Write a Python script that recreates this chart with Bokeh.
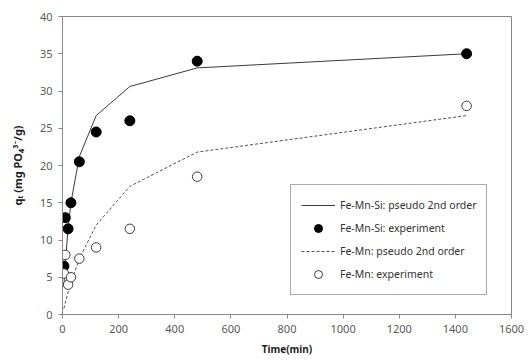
from bokeh.plotting import figure
from bokeh.models import FixedTicker, Legend, LegendItem, Range1d
from bokeh.embed import file_html
from bokeh.resources import INLINE

# Data
time_min = [5, 10, 20, 30, 60, 120, 240, 480, 1440]
femnsi_exp = [6.5, 13.0, 11.5, 15.0, 20.5, 24.5, 26.0, 34.0, 35.0]
femnsi_model = [3.8, 6.9, 11.6, 15.0, 21.2, 26.7, 30.6, 33.1, 35.0]
femn_exp = [5.5, 8.0, 4.0, 5.0, 7.5, 9.0, 11.5, 18.5, 28.0]
femn_model = [0.8, 1.6, 3.0, 4.3, 7.5, 12.0, 17.2, 21.8, 26.7]

x_ticks = [0, 200, 400, 600, 800, 1000, 1200, 1400, 1600]
y_ticks = [0, 5, 10, 15, 20, 25, 30, 35, 40]

labels = ["Fe-Mn-Si: pseudo 2nd order", "Fe-Mn-Si: experiment",
          "Fe-Mn: pseudo 2nd order", "Fe-Mn: experiment"]

FONT = "Noto Sans"
AX = "#868686"
TXT = "#595959"

p = figure(width=531, height=360, output_backend="svg", toolbar_location=None,
           x_range=Range1d(0, 1600), y_range=Range1d(0, 40),
           min_border_left=62, min_border_right=20, min_border_top=16, min_border_bottom=46)
p.background_fill_color = "white"
p.border_fill_color = "white"
p.outline_line_color = AX
p.outline_line_width = 1
p.xgrid.visible = False
p.ygrid.visible = False

for ax, ticks in ((p.xaxis[0], x_ticks), (p.yaxis[0], y_ticks)):
    ax.ticker = FixedTicker(ticks=ticks)
    ax.axis_line_color = AX
    ax.major_tick_line_color = AX
    ax.major_tick_out = 4
    ax.major_tick_in = 0
    ax.minor_tick_line_color = None
    ax.major_label_text_font = FONT
    ax.major_label_text_font_size = "11px"
    ax.major_label_text_color = TXT
    ax.axis_label_text_font = FONT
    ax.axis_label_text_font_style = "bold"
    ax.axis_label_text_color = "#222222"

p.xaxis.axis_label = "Time(min)"
p.xaxis.axis_label_text_font_size = "10px"
p.xaxis.axis_label_standoff = 6
p.xaxis.major_label_standoff = 6
p.yaxis.axis_label = "qₜ (mg PO₄³⁻/g)"
p.yaxis.axis_label_text_font_size = "11px"
p.yaxis.axis_label_standoff = 12
p.yaxis.major_label_standoff = 6

r1 = p.line(time_min, femnsi_model, line_color="#3a3a3a", line_width=1)
r2 = p.scatter(time_min, femnsi_exp, size=10, marker="circle",
               fill_color="black", line_color="black")
r3 = p.line(time_min, femn_model, line_color="#505050", line_width=1, line_dash="3 2")
r4 = p.scatter(time_min, femn_exp, size=9.5, marker="circle",
               fill_color="white", line_color="#3a3a3a", line_width=1)

legend = Legend(items=[LegendItem(label=labels[0], renderers=[r1]),
                       LegendItem(label=labels[1], renderers=[r2]),
                       LegendItem(label=labels[2], renderers=[r3]),
                       LegendItem(label=labels[3], renderers=[r4])],
                location=(228, 19), orientation="vertical")
legend.border_line_color = "#555555"
legend.border_line_width = 1
legend.background_fill_color = "white"
legend.background_fill_alpha = 1
legend.label_text_font = FONT
legend.label_text_font_size = "10.5px"
legend.label_text_color = "#333333"
legend.glyph_width = 34
legend.glyph_height = 20
legend.label_height = 20
legend.label_standoff = 5
legend.spacing = 3
legend.padding = 10
legend.margin = 0
p.add_layout(legend, "center")

open("out.html", "w").write(file_html(p, INLINE))
